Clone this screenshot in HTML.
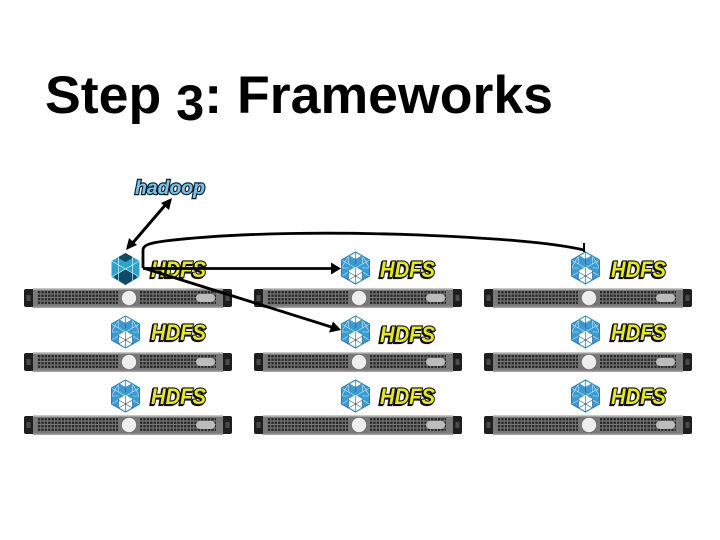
<!DOCTYPE html>
<html>
<head>
<meta charset="utf-8">
<style>
html,body{margin:0;padding:0;background:#fff;width:720px;height:540px;overflow:hidden}
svg{display:block}
.h{font-family:"Liberation Sans",sans-serif;font-weight:bold;font-style:italic;font-size:22px;fill:#e6e826;stroke:#111;stroke-width:2.2px;paint-order:stroke;filter:drop-shadow(-1px 1px 0 #111)}
</style>
</head>
<body>
<svg width="720" height="540" viewBox="0 0 720 540" xmlns="http://www.w3.org/2000/svg">
<defs>
<pattern id="g" width="3.4" height="3.5" patternUnits="userSpaceOnUse">
<rect width="3.4" height="3.5" fill="#777"/>
<rect x=".5" y=".6" width="2.4" height="2.3" fill="#262626"/>
</pattern>
<g id="server">
<rect x="24" y="289" width="208" height="18" rx="2" fill="#1e1e1e"/>
<rect x="26.500" y="295" width="4" height="6" fill="#4a4a4a"/>
<rect x="225.500" y="295" width="4" height="6" fill="#4a4a4a"/>
<rect x="33" y="288" width="190" height="20" fill="#7a7a7a"/>
<rect x="33" y="288" width="190" height="1.600" fill="#c8c8c8"/>
<rect x="33" y="306.500" width="190" height="1.500" fill="#a0a0a0"/>
<rect x="37" y="291" width="179" height="14" fill="url(#g)"/>
<rect x="118" y="289.500" width="22" height="17" fill="#777"/>
<circle cx="129" cy="298" r="7.500" fill="#eee" stroke="#666" stroke-width=".6"/>
<rect x="196" y="294" width="19" height="8" rx="4" fill="#bcbcbc"/>
</g>
<g id="icon">
<path d="M0-16 14-8V8L0 16-14 8V-8Z" fill="#3b9ad2" stroke="#2a7fb0" stroke-width="1" stroke-linejoin="round"/>
<path d="M0-1 7 3V11.500L0 15.500-7 11.500V3Z" fill="#fff"/>
<path d="M0-16 6-12.500 0-9-6-12.500Z" fill="#fff"/>
<path d="M-14-8 0 0 14-8M-14 8-7 4M14 8 7 4M-14 0H-7M14 0H7M-7-12V-4M7-12V-4M-7-12-14 0M7-12 14 0" stroke="#cfe8f6" stroke-width=".6" fill="none"/>
<path d="M0-16V-4M0 0V16M-7 3V12M7 3V12M-7 4 7 12M7 4-7 12" stroke="#1d5a80" stroke-width=".6" fill="none"/>
<path d="M0-16 14-8V8L0 16-14 8V-8Z" fill="none" stroke="#2a7fb0" stroke-width="1" stroke-linejoin="round"/>
</g>
<g id="active">
<path d="M0-16 14-8V8L0 16-14 8V-8Z" fill="#2ea3c9" stroke-linejoin="round"/>
<path d="M0-16 8-11.500 0-7-8-11.500Z" fill="#0f4a66"/>
<path d="M0 0 11 6.500V9L0 16-11 9V6.500Z" fill="#0f4a66"/>
<path d="M-14-8 14 8M14-8-14 8M-7-12V12M7-12V12" stroke="#d8f0f8" stroke-width=".7" fill="none"/>
</g>
</defs>

<text x="45" y="113" font-family="'Liberation Sans',sans-serif" font-weight="bold" font-size="53" fill="#000" textLength="508" lengthAdjust="spacingAndGlyphs">Step <tspan dy="7" font-size="50">3</tspan><tspan dy="-7">: Frameworks</tspan></text>

<use href="#server"/>
<use href="#server" x="230"/>
<use href="#server" x="460"/>
<use href="#server" y="64"/>
<use href="#server" x="230" y="64"/>
<use href="#server" x="460" y="64"/>
<use href="#server" y="127"/>
<use href="#server" x="230" y="127"/>
<use href="#server" x="460" y="127"/>

<use href="#active" x="125.500" y="269"/>
<use href="#icon" x="355.500" y="268"/>
<use href="#icon" x="585.500" y="268"/>
<use href="#icon" x="125.500" y="332"/>
<use href="#icon" x="355.500" y="332"/>
<use href="#icon" x="585.500" y="332"/>
<use href="#icon" x="125.500" y="396"/>
<use href="#icon" x="355.500" y="396"/>
<use href="#icon" x="585.500" y="396"/>

<text class="h" x="151" y="277" textLength="55" lengthAdjust="spacingAndGlyphs">HDFS</text>
<text class="h" x="380" y="277" textLength="55" lengthAdjust="spacingAndGlyphs">HDFS</text>
<text class="h" x="611" y="277" textLength="55" lengthAdjust="spacingAndGlyphs">HDFS</text>
<text class="h" x="151" y="340" textLength="55" lengthAdjust="spacingAndGlyphs">HDFS</text>
<text class="h" x="380" y="342" textLength="55" lengthAdjust="spacingAndGlyphs">HDFS</text>
<text class="h" x="611" y="340" textLength="55" lengthAdjust="spacingAndGlyphs">HDFS</text>
<text class="h" x="151" y="404" textLength="55" lengthAdjust="spacingAndGlyphs">HDFS</text>
<text class="h" x="380" y="404" textLength="55" lengthAdjust="spacingAndGlyphs">HDFS</text>
<text class="h" x="611" y="404" textLength="55" lengthAdjust="spacingAndGlyphs">HDFS</text>

<text x="135" y="194" font-family="'Liberation Sans',sans-serif" font-weight="bold" font-style="italic" font-size="19" fill="#7cc3e6" stroke="#0e2233" stroke-width="2.400" style="paint-order:stroke" textLength="70" lengthAdjust="spacingAndGlyphs">hadoop</text>

<line x1="131" y1="245" x2="167" y2="203" stroke="#000" stroke-width="3"/>
<path d="M126 250 129 238 137 245Z" fill="#000"/>
<path d="M172 198 169 210 161 203Z" fill="#000"/>
<path d="M143 268V250C143 245 150 243 165 241 C240 232 340 232 420 235 C490 238 550 242 584 250" fill="none" stroke="#000" stroke-width="2.800"/>
<path d="M584 243V252" stroke="#000" stroke-width="2"/>
<path d="M143 268.500H332" fill="none" stroke="#000" stroke-width="2.800"/>
<path d="M331 262.500 341 268.500 331 274.500Z" fill="#000"/>
<path d="M145 268.500 333 327.500" fill="none" stroke="#000" stroke-width="2.800"/>
<path d="M333 321.500 341 330 329 332.500Z" fill="#000"/>
</svg>
</body>
</html>
